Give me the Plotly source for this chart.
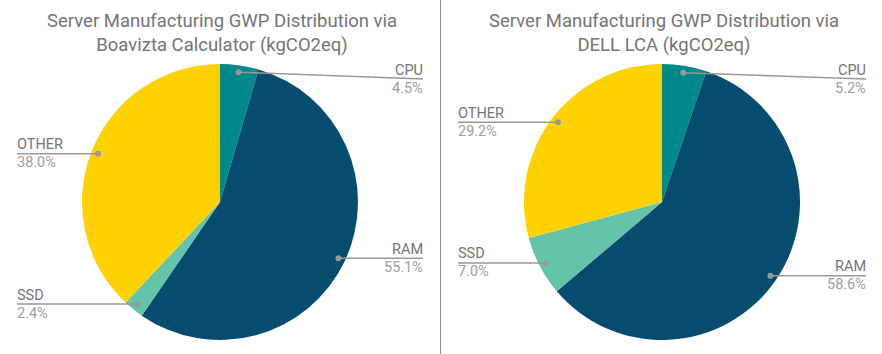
import math
import plotly.graph_objects as go

categories = ["CPU", "RAM", "SSD", "OTHER"]
boavizta_values = [4.5, 55.1, 2.4, 38.0]
dell_values = [5.2, 58.6, 7.0, 29.2]
titles = [
    "Server Manufacturing GWP Distribution via<br>Boavizta Calculator (kgCO2eq)",
    "Server Manufacturing GWP Distribution via<br>DELL LCA (kgCO2eq)",
]
colors = ["#00898a", "#054c6e", "#64c4aa", "#ffd200"]

W, H = 882, 354
R = 138
CY = 202
pies = [
    dict(values=boavizta_values, cx=220, title_x=221.5, left_x=17, right_x=423),
    dict(values=dell_values, cx=662, title_x=663.5, left_x=458, right_x=866),
]
MIN_LABEL_Y = 79

def px(x):
    return x / W

def py(y):
    return 1 - y / H

fig = go.Figure()
shapes = []
annotations = []

for i, p in enumerate(pies):
    vals = p["values"]
    fig.add_trace(go.Pie(
        labels=categories, values=vals, sort=False, direction="clockwise",
        rotation=0, textinfo="none", hoverinfo="label+percent",
        marker=dict(colors=colors, line=dict(width=0)),
        domain=dict(x=[px(p["cx"] - R), px(p["cx"] + R)], y=[py(CY + R), py(CY - R)]),
        showlegend=False,
    ))
    total = sum(vals)
    cum = 0
    for name, v in zip(categories, vals):
        mid = (cum + v / 2) / total
        cum += v
        th = 2 * math.pi * mid
        dx = p["cx"] + 0.95 * R * math.sin(th)
        dy = CY - 0.95 * R * math.cos(th)
        right = math.sin(th) > 0
        ex = p["right_x"] if right else p["left_x"]
        ly = max(dy, MIN_LABEL_Y)
        shapes.append(dict(type="line", xref="paper", yref="paper",
                           x0=px(dx), y0=py(dy), x1=px(ex), y1=py(ly),
                           line=dict(color="#999999", width=1.5)))
        shapes.append(dict(type="circle", xref="paper", yref="paper",
                           x0=px(dx - 3), x1=px(dx + 3), y0=py(dy + 3), y1=py(dy - 3),
                           fillcolor="#999999", line=dict(width=0)))
        anchor = "right" if right else "left"
        xs = 2 if right else -2
        annotations.append(dict(xref="paper", yref="paper", x=px(ex), y=py(ly),
                                text=name, showarrow=False, xanchor=anchor, yanchor="middle",
                                yshift=9, xshift=xs,
                                font=dict(family="Roboto", size=14.5, color="#757575")))
        annotations.append(dict(xref="paper", yref="paper", x=px(ex), y=py(ly),
                                text=f"{100 * v / total:.1f}%", showarrow=False, xanchor=anchor,
                                yanchor="middle", yshift=-9, xshift=xs,
                                font=dict(family="Roboto", size=14.5, color="#9e9e9e")))
    annotations.append(dict(xref="paper", yref="paper", x=px(p["title_x"]), y=py(33),
                            text=titles[i], showarrow=False, xanchor="center", yanchor="middle",
                            font=dict(family="Roboto", size=18.5, color="#757575")))

shapes.append(dict(type="line", xref="paper", yref="paper", x0=px(440.5), x1=px(440.5),
                   y0=0, y1=1, line=dict(color="#8a8a8a", width=1)))

fig.update_layout(
    width=W, height=H, margin=dict(l=0, r=0, t=0, b=0),
    paper_bgcolor="white", plot_bgcolor="white",
    shapes=shapes, annotations=annotations,
    font=dict(family="Roboto"),
)
fig.write_html("out.html")
